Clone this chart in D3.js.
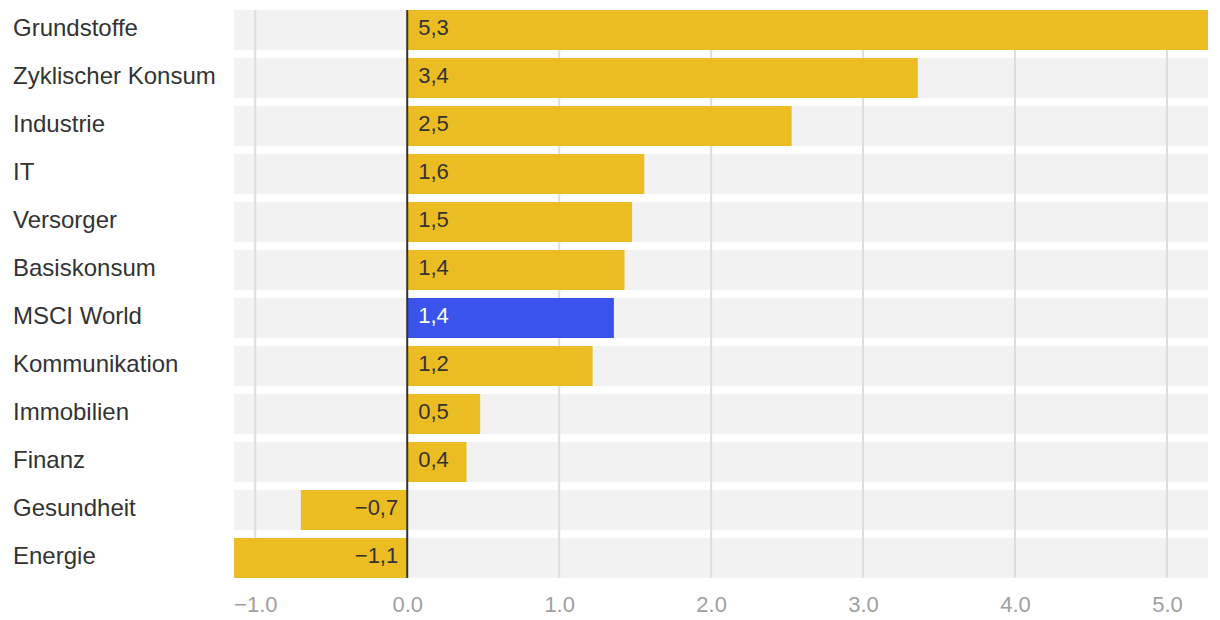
<!DOCTYPE html>
<html>
<head>
<meta charset="utf-8">
<script src="https://cdn.jsdelivr.net/npm/d3@7"></script>
<style>
  html, body { margin: 0; padding: 0; background: #fff; }
  svg { display: block; }
  text { font-family: "Liberation Sans", Arial, Helvetica, sans-serif; }
</style>
</head>
<body>
<svg id="chart" width="1220" height="620"></svg>
<script>
const categories = ["Grundstoffe", "Zyklischer Konsum", "Industrie", "IT", "Versorger", "Basiskonsum", "MSCI World", "Kommunikation", "Immobilien", "Finanz", "Gesundheit", "Energie"];
const values = [5.27, 3.36, 2.53, 1.56, 1.48, 1.43, 1.36, 1.22, 0.48, 0.39, -0.70, -1.14];
const highlight = ["MSCI World"];
const tickValues = [-1, 0, 1, 2, 3, 4, 5];

const data = categories.map((c, i) => ({ name: c, value: values[i] }));

const svg = d3.select("#chart");
const x = d3.scaleLinear().domain([d3.min(values), d3.max(values)]).range([234, 1208]);
const y = d3.scaleBand().domain(categories).range([6, 582]).paddingInner(1 / 6).paddingOuter(1 / 12);

const yellow = "#ebbd22", blue = "#3b53ed";
const gridTop = y(categories[0]);
const gridBottom = y(categories[categories.length - 1]) + y.bandwidth();

// background bands
svg.append("g").selectAll("rect").data(data).join("rect")
  .attr("x", x.range()[0]).attr("width", x.range()[1] - x.range()[0])
  .attr("y", d => y(d.name)).attr("height", y.bandwidth())
  .attr("fill", "#f2f2f2");

// grid lines
svg.append("g").selectAll("line").data(tickValues.filter(t => t !== 0)).join("line")
  .attr("x1", d => x(d)).attr("x2", d => x(d))
  .attr("y1", gridTop).attr("y2", gridBottom)
  .attr("stroke", "#dddddd").attr("stroke-width", 2);

// bars
svg.append("g").selectAll("rect").data(data).join("rect")
  .attr("x", d => Math.min(x(0), x(d.value)))
  .attr("width", d => Math.abs(x(d.value) - x(0)))
  .attr("y", d => y(d.name)).attr("height", y.bandwidth())
  .attr("fill", d => highlight.includes(d.name) ? blue : yellow);

// zero line
svg.append("line")
  .attr("x1", x(0)).attr("x2", x(0))
  .attr("y1", gridTop).attr("y2", gridBottom)
  .attr("stroke", "#333").attr("stroke-width", 2);

// category labels
svg.append("g").selectAll("text").data(data).join("text")
  .attr("x", 13)
  .attr("y", d => y(d.name) + y.bandwidth() / 2)
  .attr("dy", "0.27em")
  .attr("font-size", 24)
  .attr("fill", "#333")
  .text(d => d.name);

// value labels
const fmt = v => d3.format(".1f")(Math.abs(v)).replace(".", ",");
svg.append("g").selectAll("text").data(data).join("text")
  .attr("x", d => d.value >= 0 ? x(0) + 11 : x(0) - 9)
  .attr("text-anchor", d => d.value >= 0 ? "start" : "end")
  .attr("y", d => y(d.name) + y.bandwidth() / 2)
  .attr("dy", "0.24em")
  .attr("font-size", 22)
  .attr("fill", d => highlight.includes(d.name) ? "#fff" : "#333")
  .text(d => (d.value < 0 ? "\u2212" : "") + fmt(d.value));

// x axis
const axis = d3.axisBottom(x).tickValues(tickValues).tickSize(0)
  .tickFormat(v => (v < 0 ? "\u2212" : "") + d3.format(".1f")(Math.abs(v)));
const ax = svg.append("g").attr("transform", `translate(0,${gridBottom})`).call(axis);
ax.select(".domain").remove();
ax.selectAll("text")
  .attr("y", 34).attr("dy", 0)
  .attr("font-size", 22)
  .attr("font-family", "Liberation Sans, Arial, sans-serif")
  .attr("fill", "#a0a0a0");
</script>
</body>
</html>
